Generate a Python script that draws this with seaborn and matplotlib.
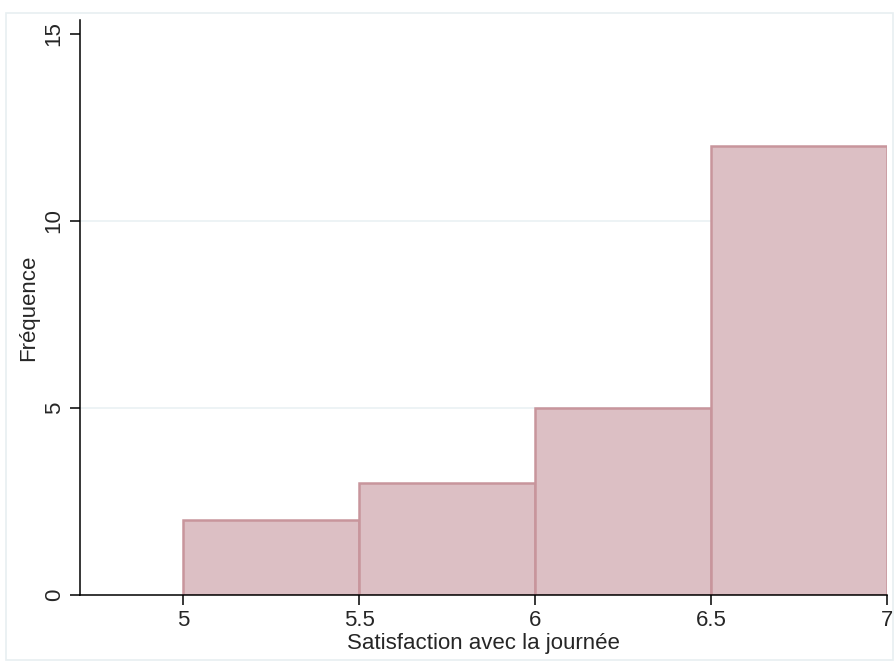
import matplotlib
matplotlib.use("Agg")
import matplotlib.pyplot as plt
import matplotlib.patches as mpatches
import seaborn as sns
import pandas as pd

# Histogram bins (satisfaction score) and their frequencies
bin_edges = [5.0, 5.5, 6.0, 6.5, 7.0]
bin_centers = [5.25, 5.75, 6.25, 6.75]
frequencies = [2, 3, 5, 12]
y_ticks = [0, 5, 10, 15]
x_ticks = [5, 5.5, 6, 6.5, 7]
x_tick_labels = ["5", "5.5", "6", "6.5", "7"]

sns.set_style("white")
plt.rcParams["font.family"] = ["Liberation Sans", "DejaVu Sans"]

df = pd.DataFrame({"score": bin_centers, "n": frequencies})

fig = plt.figure(figsize=(8.96, 6.64), dpi=100)
ax = fig.add_axes([80 / 896, 1 - 595 / 664, (887 - 80) / 896, (595 - 20) / 664])

# light outer frame around the plot region
fig.patches.append(mpatches.Rectangle((6 / 896, 1 - 660 / 664), (893 - 6) / 896, (660 - 13) / 664,
                                      transform=fig.transFigure, fill=False,
                                      edgecolor="#e8eff1", linewidth=1.2))

ax.set_axisbelow(True)
for y in [5, 10]:
    ax.axhline(y, color="#eaf1f3", linewidth=1.2, zorder=0)

sns.histplot(data=df, x="score", weights="n", bins=bin_edges, ax=ax,
             color="#dcbfc4", edgecolor="#c8959c", linewidth=1.8, alpha=1.0)

ax.set_xlim(4.707, 7.0)
ax.set_ylim(0, 15.37)
ax.set_yticks(y_ticks)
ax.set_yticklabels([str(v) for v in y_ticks], rotation=90, va="center")
ax.set_xticks(x_ticks)
ax.set_xticklabels(x_tick_labels)
ax.tick_params(axis="both", direction="out", length=7, width=1.1, color="black",
               labelsize=16, pad=4, left=True, bottom=True)
ax.set_xlabel("Satisfaction avec la journée", fontsize=16, labelpad=1)
ax.set_ylabel("Fréquence", fontsize=16, labelpad=3)

for s in ["top", "right"]:
    ax.spines[s].set_visible(False)
for s in ["left", "bottom"]:
    ax.spines[s].set_color("black")
    ax.spines[s].set_linewidth(1.1)

fig.savefig("out.png", dpi=100, facecolor="white")
